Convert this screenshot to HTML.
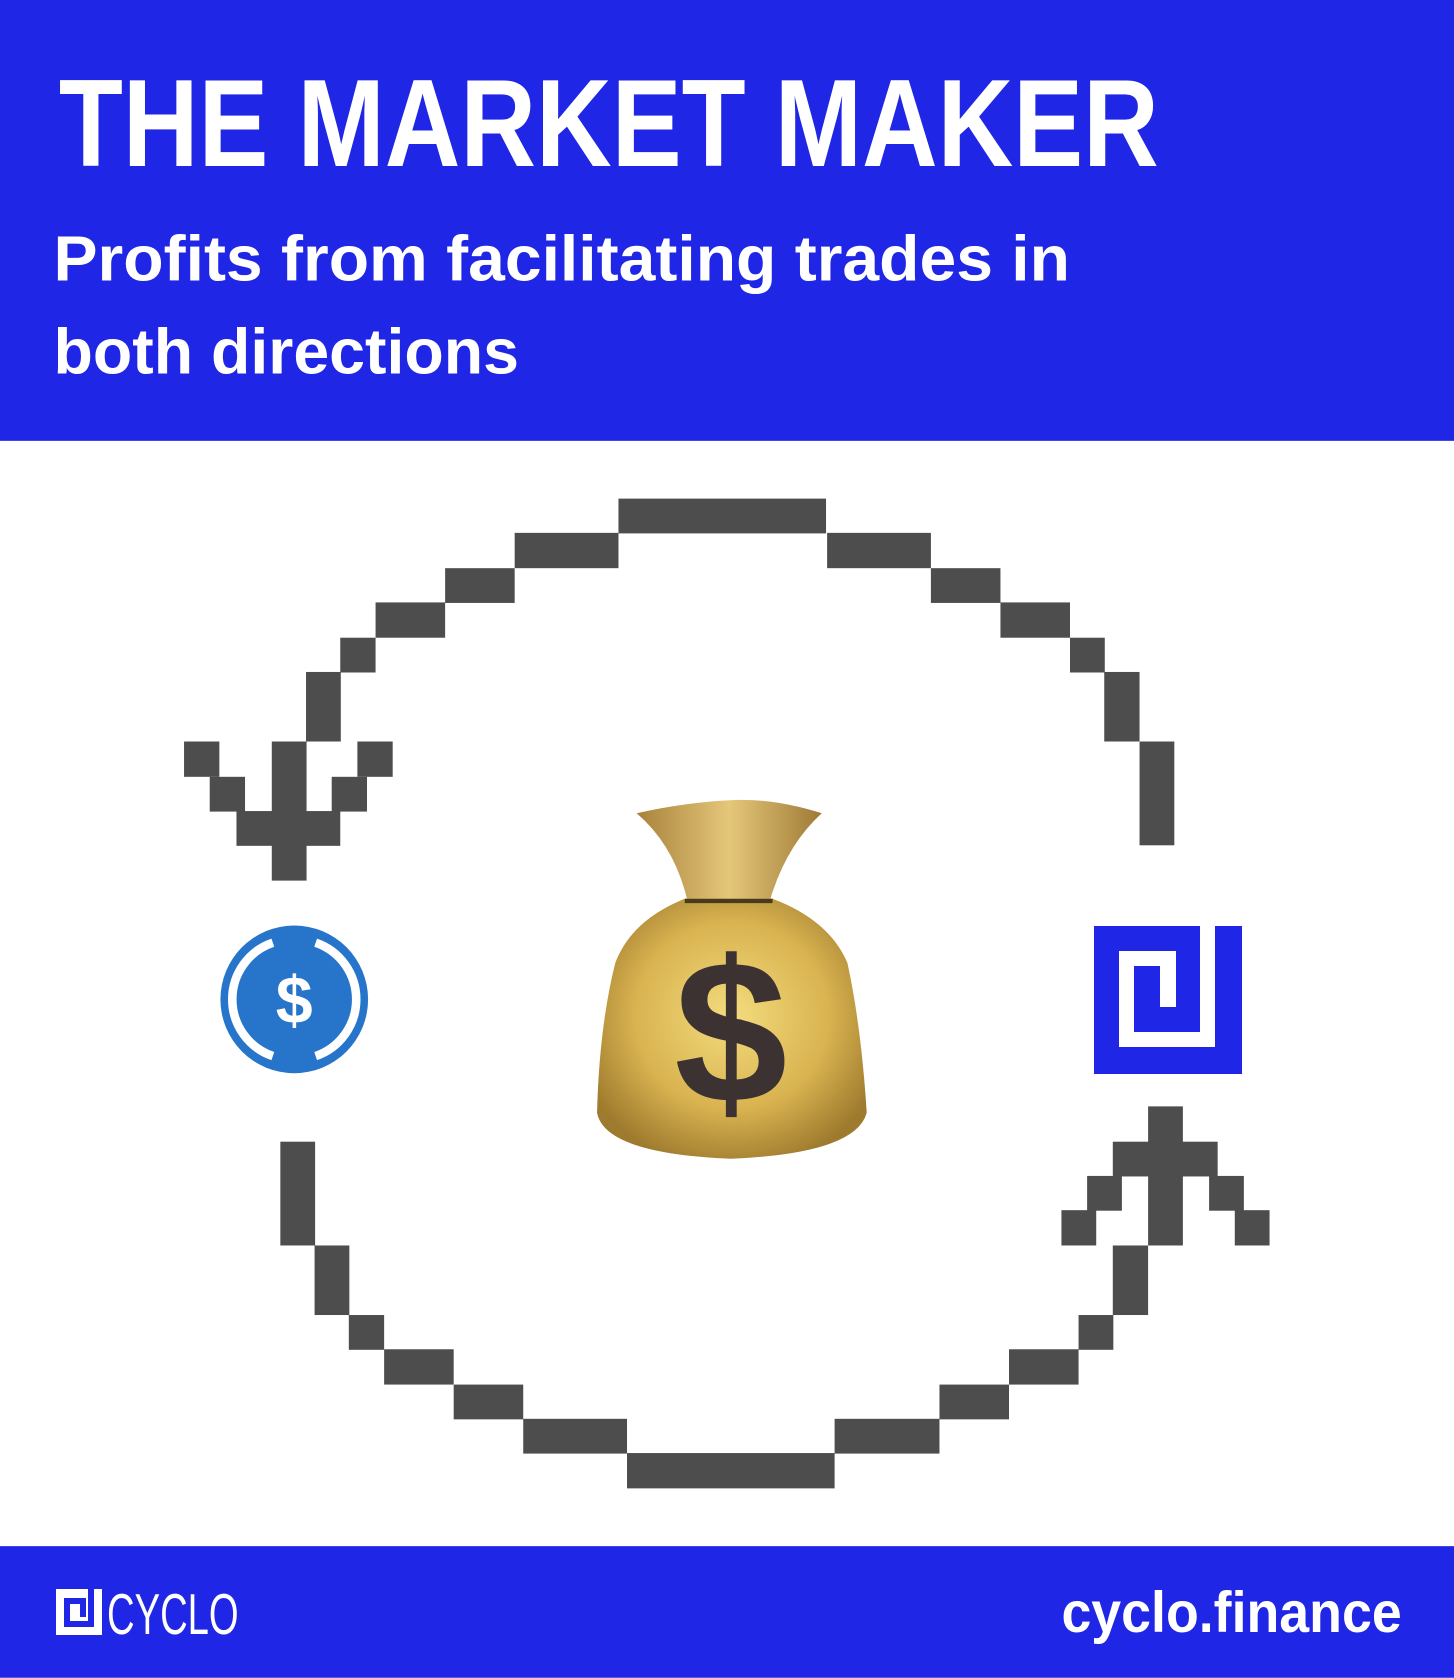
<!DOCTYPE html>
<html><head><meta charset="utf-8"><style>
html,body{margin:0;padding:0;background:#fff}
svg{display:block}
</style></head><body>
<svg width="1454" height="1678" viewBox="0 0 1454 1678" xmlns="http://www.w3.org/2000/svg">
<defs>
<radialGradient id="bagG" cx="0.5" cy="0.45" r="0.6">
<stop offset="0" stop-color="#f3dc7e"/><stop offset="0.6" stop-color="#d9b350"/><stop offset="1" stop-color="#9e7a2e"/></radialGradient>
<linearGradient id="neckG" x1="0" y1="0" x2="1" y2="0">
<stop offset="0" stop-color="#a8823b"/><stop offset="0.5" stop-color="#e5c77a"/><stop offset="1" stop-color="#9e7a35"/></linearGradient>
</defs>
<g transform="scale(1.07)">
<rect x="0" y="0" width="1359" height="412" fill="#2026e6"/>
<text x="55" y="155" fill="#fff" font-family="Liberation Sans, sans-serif" font-weight="bold" font-size="116" textLength="1028" lengthAdjust="spacingAndGlyphs">THE MARKET MAKER</text>
<text x="50" y="262" fill="#fff" font-family="Liberation Sans, sans-serif" font-weight="bold" font-size="60" textLength="950" lengthAdjust="spacingAndGlyphs">Profits from facilitating trades in</text>
<text x="50" y="349" fill="#fff" font-family="Liberation Sans, sans-serif" font-weight="bold" font-size="60" textLength="435" lengthAdjust="spacingAndGlyphs">both directions</text>

<g fill="#4d4d4d">
<rect x="578" y="466" width="194" height="32.5"/>
<rect x="481" y="498" width="97" height="33"/><rect x="773" y="498" width="97" height="33"/>
<rect x="416" y="531" width="65" height="32.5"/><rect x="870" y="531" width="65" height="32.5"/>
<rect x="351" y="563" width="65" height="33"/><rect x="935" y="563" width="65" height="33"/>
<rect x="318" y="596" width="33" height="32.5"/><rect x="1000" y="596" width="32.5" height="32.5"/>
<rect x="286" y="628" width="32.5" height="65"/><rect x="1032" y="628" width="33" height="65"/>
<rect x="1065" y="693" width="32.5" height="97"/>
<rect x="254" y="693" width="32.5" height="130"/>
<rect x="172" y="693" width="33" height="33"/><rect x="334" y="693" width="33" height="33"/>
<rect x="196" y="726" width="33" height="32.5"/><rect x="310" y="726" width="33" height="32.5"/>
<rect x="221" y="758" width="97" height="32.5"/>
<rect x="262" y="1067" width="32.5" height="97"/>
<rect x="294" y="1164" width="32.5" height="65"/>
<rect x="326" y="1229" width="33" height="32.5"/>
<rect x="359" y="1261" width="65" height="33"/>
<rect x="424" y="1294" width="65" height="32.5"/>
<rect x="489" y="1326" width="97" height="32.5"/>
<rect x="586" y="1358" width="194" height="33"/>
<rect x="780" y="1326" width="98" height="32.5"/>
<rect x="878" y="1294" width="65" height="32.5"/>
<rect x="943" y="1261" width="65" height="33"/>
<rect x="1008" y="1229" width="32.5" height="32.5"/>
<rect x="1040" y="1164" width="33" height="65"/>
<rect x="1073" y="1034" width="32.5" height="130"/>
<rect x="1040" y="1067" width="98" height="32.5"/>
<rect x="1016" y="1099" width="32.5" height="32.5"/><rect x="1130" y="1099" width="32.5" height="32.5"/>
<rect x="992" y="1131" width="32.5" height="33"/><rect x="1154" y="1131" width="32.5" height="33"/>
</g>

<g>
<circle cx="275" cy="934" r="69" fill="#2775ca"/>
<path d="M255 881 A56 56 0 0 0 255 987" fill="none" stroke="#fff" stroke-width="8"/>
<path d="M295 881 A56 56 0 0 1 295 987" fill="none" stroke="#fff" stroke-width="8"/>
<text x="275" y="956" text-anchor="middle" fill="#fff" font-family="Liberation Sans, sans-serif" font-weight="bold" font-size="62">$</text>
</g>

<g>
<path d="M595 760 Q640 750 680 748 Q720 745 768 760 Q735 790 720 840 L642 840 Q630 790 595 760 Z" fill="url(#neckG)"/>
<path d="M640 840 Q590 860 575 900 Q560 960 558 1040 Q565 1078 683 1083 Q800 1078 810 1040 Q805 960 792 900 Q775 860 722 840 Z" fill="url(#bagG)"/>
<path d="M640 842 L722 842" stroke="#4a3a1a" stroke-width="4"/>
<text x="683" y="1030" text-anchor="middle" fill="#3d3232" font-family="Liberation Sans, sans-serif" font-weight="bold" font-size="190">$</text>
</g>

<rect x="0" y="1445" width="1359" height="123" fill="#2026e6"/>
<text x="100" y="1527" fill="#fff" font-family="Liberation Sans, sans-serif" font-size="54" textLength="123" lengthAdjust="spacingAndGlyphs">CYCLO</text>
<text x="992" y="1525" fill="#fff" font-family="Liberation Sans, sans-serif" font-weight="bold" font-size="54" textLength="318" lengthAdjust="spacingAndGlyphs">cyclo.finance</text>
</g>

<g>
<rect x="1094" y="926" width="148" height="148" fill="#2026e6"/>
<path d="M1200 926 H1215 V1047 H1119 V951 H1176 V1007 H1160 V966 H1134 V1032 H1200 Z" fill="#fff"/>
</g>
<g>
<rect x="56" y="1589" width="46" height="46" fill="#fff"/>
<path d="M80 1589 H94 V1627 H64 V1598 H86 V1617 H80 V1604 H70 V1621 H88 V1589 Z" fill="#2026e6"/>
</g>
</svg>
</body></html>
